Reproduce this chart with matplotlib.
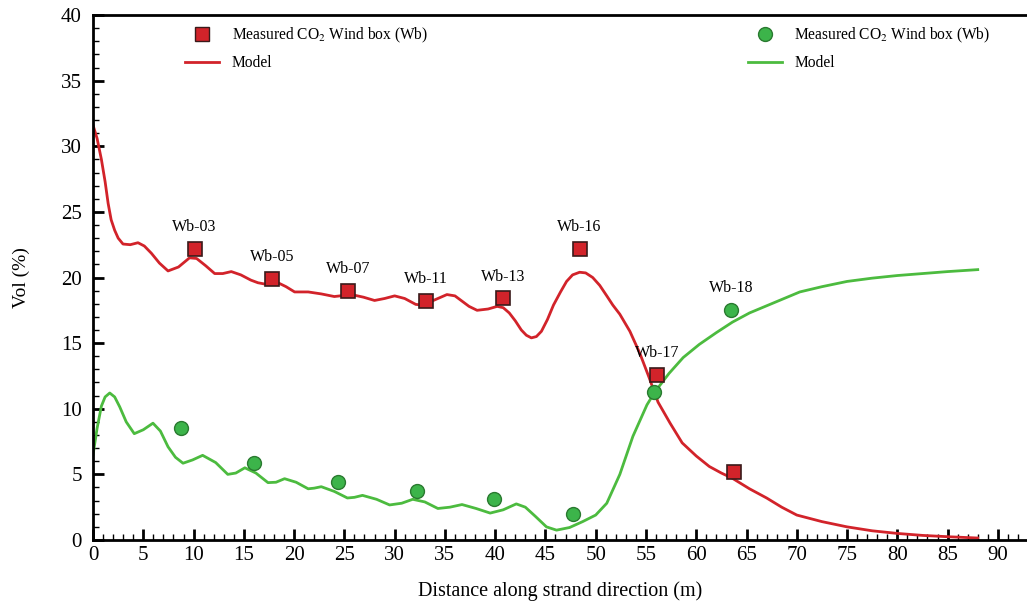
import matplotlib
matplotlib.use("Agg")
import matplotlib.pyplot as plt
from matplotlib.ticker import MultipleLocator
from matplotlib.lines import Line2D

plt.rcParams['font.family'] = ['Liberation Serif', 'DejaVu Serif']
plt.rcParams['mathtext.fontset'] = 'stix'

# measured wind box values
co2_x = [10.1, 17.8, 25.4, 33.1, 40.8, 48.4, 56.1, 63.8]
co2_y = [22.2, 19.9, 19.0, 18.2, 18.4, 22.2, 12.6, 5.2]
co2_lab = ['Wb-03', 'Wb-05', 'Wb-07', 'Wb-11', 'Wb-13', 'Wb-16', 'Wb-17', '']

o2_x = [8.7, 16.0, 24.4, 32.2, 39.9, 47.7, 55.8, 63.5]
o2_y = [8.5, 5.9, 4.4, 3.7, 3.1, 2.0, 11.3, 17.5]
o2_lab = ['', '', '', '', '', '', '', 'Wb-18']

# model curves
red_x = [0, 0.4, 0.83, 1.2, 1.5, 1.8, 2.15, 2.5, 2.98, 3.7, 4.47, 5.1, 5.8, 6.6,
         7.46, 8.5, 9.6, 10.3, 11.2, 12.1, 12.9, 13.75, 14.7, 15.7, 16.4, 17.1,
         18.4, 19.2, 20.05, 21.4, 22.7, 24.0, 25.7, 26.9, 28.0, 29.0, 30.0, 31.0,
         32.1, 32.8, 34.0, 35.2, 36.0, 36.7, 37.4, 38.2, 39.3, 40.2, 40.8, 41.4,
         42.0, 42.6, 43.1, 43.6, 44.1, 44.6, 45.2, 45.8, 46.5, 47.1, 47.7, 48.4,
         49.0, 49.7, 50.4, 51.1, 51.7, 52.4, 53.4, 54.4, 55.3, 56.2, 57.4, 58.6,
         60.0, 61.3, 62.5, 63.6, 65.3, 67.0, 68.5, 70.0, 72.5, 75.0, 77.5, 80.0,
         82.5, 85.0, 88.0]
red_y = [31.6, 30.6, 29.0, 27.3, 25.65, 24.4, 23.6, 23.0, 22.55, 22.5, 22.65, 22.4,
         21.85, 21.1, 20.5, 20.8, 21.5, 21.45, 20.9, 20.3, 20.3, 20.45, 20.2, 19.8,
         19.6, 19.5, 19.6, 19.3, 18.9, 18.9, 18.75, 18.55, 18.7, 18.5, 18.25, 18.4,
         18.6, 18.4, 17.95, 17.9, 18.3, 18.7, 18.6, 18.2, 17.8, 17.5, 17.6, 17.8,
         17.7, 17.3, 16.7, 16.0, 15.6, 15.4, 15.5, 15.9, 16.8, 17.9, 18.9, 19.7,
         20.2, 20.4, 20.35, 20.0, 19.4, 18.6, 17.9, 17.2, 15.9, 14.2, 12.4, 10.5,
         8.9, 7.4, 6.4, 5.6, 5.1, 4.7, 3.9, 3.2, 2.5, 1.9, 1.4, 1.0, 0.7, 0.5,
         0.35, 0.25, 0.15]

grn_x = [0, 0.4, 0.83, 1.2, 1.66, 2.15, 2.65, 3.3, 4.1, 5.0, 5.96, 6.7, 7.46, 8.2,
         8.95, 9.9, 10.9, 12.2, 13.4, 14.2, 15.1, 16.2, 17.4, 18.2, 19.05, 20.2,
         21.4, 22.0, 22.7, 24.0, 25.3, 26.0, 26.8, 28.2, 29.5, 30.7, 31.8, 33.0,
         34.3, 35.5, 36.7, 38.1, 39.5, 40.8, 42.1, 43.0, 44.0, 45.1, 46.1, 47.4,
         48.7, 50.0, 51.1, 52.4, 53.7, 54.4, 55.1, 55.9, 57.3, 58.7, 60.3, 62.0,
         63.6, 65.3, 67.8, 70.3, 72.5, 75.0, 77.5, 80.0, 82.5, 85.0, 88.0]
grn_y = [6.5, 8.5, 10.2, 10.9, 11.2, 10.9, 10.15, 9.0, 8.1, 8.4, 8.9, 8.3, 7.1,
         6.3, 5.85, 6.1, 6.45, 5.9, 5.0, 5.1, 5.5, 5.1, 4.37, 4.4, 4.67, 4.4,
         3.9, 3.95, 4.06, 3.7, 3.2, 3.25, 3.4, 3.1, 2.67, 2.8, 3.1, 2.9, 2.4,
         2.5, 2.7, 2.4, 2.05, 2.3, 2.75, 2.5, 1.8, 1.0, 0.75, 0.95, 1.4, 1.9,
         2.8, 5.0, 7.9, 9.1, 10.3, 11.3, 12.7, 13.9, 14.9, 15.8, 16.6, 17.3, 18.1,
         18.9, 19.3, 19.7, 19.95, 20.15, 20.3, 20.45, 20.6]

red = '#d2232a'
green = '#4cbb3f'

fig = plt.figure(figsize=(10.27, 6.03), dpi=100)
ax = fig.add_axes([0.0906, 0.1045, 0.9094, 0.8706])

ax.plot(red_x, red_y, color=red, lw=2)
ax.plot(grn_x, grn_y, color=green, lw=2)
ax.plot(co2_x, co2_y, 's', ms=10, mfc=red, mec='#3a1a1a', mew=1.2, ls='none')
ax.plot(o2_x, o2_y, 'o', ms=10, mfc='#3cb44a', mec='#2a7a30', mew=1, ls='none')

for x, y, t in zip(co2_x + o2_x, co2_y + o2_y, co2_lab + o2_lab):
    if t:
        ax.annotate(t, (x, y), xytext=(0, 10), textcoords='offset points',
                    ha='center', va='bottom', fontsize=11.5)

ax.set_xlim(0, 92.9)
ax.set_ylim(0, 40)
ax.xaxis.set_major_locator(MultipleLocator(5))
ax.xaxis.set_minor_locator(MultipleLocator(1))
ax.yaxis.set_major_locator(MultipleLocator(5))
ax.yaxis.set_minor_locator(MultipleLocator(1))
ax.tick_params(which='both', direction='in', top=False, right=False, labelsize=15)
ax.tick_params(which='major', length=8, width=2)
ax.tick_params(which='minor', length=4, width=1)
ax.tick_params(axis='y', pad=8)
ax.tick_params(axis='x', pad=4)
ax.spines['right'].set_visible(False)
for s in ['left', 'bottom', 'top']:
    ax.spines[s].set_linewidth(2)

ax.set_xlabel('Distance along strand direction (m)', fontsize=14.5, labelpad=12)
ax.set_ylabel('Vol (%)', fontsize=14, labelpad=22)

lab = 'Measured CO$_2$ Wind box (Wb)'
h1 = [Line2D([], [], marker='s', ms=10, mfc=red, mec='#3a1a1a', ls='none'),
      Line2D([], [], color=red, lw=2)]
h2 = [Line2D([], [], marker='o', ms=10, mfc='#3cb44a', mec='#2a7a30', ls='none'),
      Line2D([], [], color=green, lw=2)]
leg1 = ax.legend(h1, [lab, 'Model'], loc='upper left', bbox_to_anchor=(0.0835, 1.006),
                 frameon=False, fontsize=11.2, handlelength=2.2, labelspacing=0.65)
ax.add_artist(leg1)
ax.legend(h2, [lab, 'Model'], loc='upper left', bbox_to_anchor=(0.686, 1.006),
          frameon=False, fontsize=11.2, handlelength=2.2, labelspacing=0.65)

fig.savefig('out.png', dpi=100)
